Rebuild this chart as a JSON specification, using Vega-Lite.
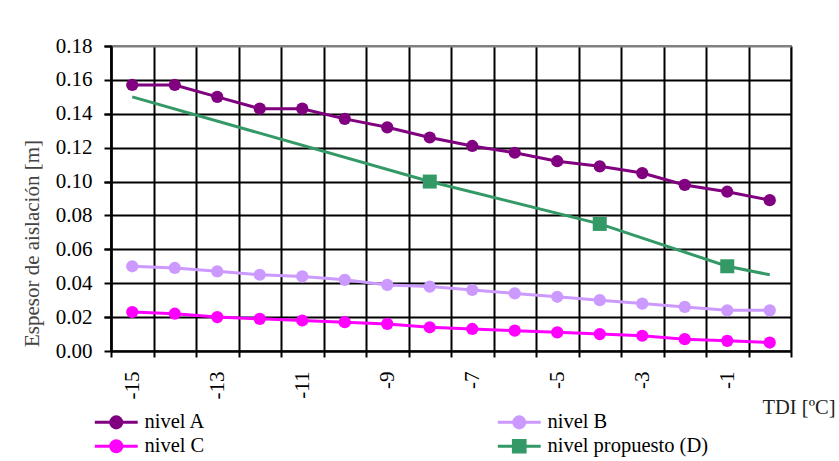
{
  "$schema": "https://vega.github.io/schema/vega-lite/v6.json",
  "width": 680,
  "height": 305,
  "autosize": "none",
  "padding": {"left": 111, "top": 46, "right": 48, "bottom": 110},
  "background": "white",
  "config": {
    "font": "Liberation Serif",
    "view": {"stroke": "#808080", "strokeWidth": 2},
    "axis": {"labelFont": "Liberation Serif", "titleFont": "Liberation Serif", "labelColor": "black", "titleFontWeight": "normal", "labelFontSize": 21, "labelOverlap": false, "domainColor": "black", "domainWidth": 2, "tickColor": "black", "tickWidth": 2, "gridColor": "black", "gridWidth": 2, "gridOpacity": 1},
    "legend": {"labelFont": "Liberation Serif", "labelFontSize": 20.5, "labelColor": "black"}
  },
  "resolve": {"axis": {"y": "independent"}},
  "datasets": {
    "niveles": [
      {"tdi": -15, "espesor": 0.157, "serie": "nivel A"},
      {"tdi": -14, "espesor": 0.157, "serie": "nivel A"},
      {"tdi": -13, "espesor": 0.150, "serie": "nivel A"},
      {"tdi": -12, "espesor": 0.143, "serie": "nivel A"},
      {"tdi": -11, "espesor": 0.143, "serie": "nivel A"},
      {"tdi": -10, "espesor": 0.137, "serie": "nivel A"},
      {"tdi": -9, "espesor": 0.132, "serie": "nivel A"},
      {"tdi": -8, "espesor": 0.126, "serie": "nivel A"},
      {"tdi": -7, "espesor": 0.121, "serie": "nivel A"},
      {"tdi": -6, "espesor": 0.117, "serie": "nivel A"},
      {"tdi": -5, "espesor": 0.112, "serie": "nivel A"},
      {"tdi": -4, "espesor": 0.109, "serie": "nivel A"},
      {"tdi": -3, "espesor": 0.105, "serie": "nivel A"},
      {"tdi": -2, "espesor": 0.098, "serie": "nivel A"},
      {"tdi": -1, "espesor": 0.094, "serie": "nivel A"},
      {"tdi": 0, "espesor": 0.089, "serie": "nivel A"},
      {"tdi": -15, "espesor": 0.050, "serie": "nivel B"},
      {"tdi": -14, "espesor": 0.049, "serie": "nivel B"},
      {"tdi": -13, "espesor": 0.047, "serie": "nivel B"},
      {"tdi": -12, "espesor": 0.045, "serie": "nivel B"},
      {"tdi": -11, "espesor": 0.044, "serie": "nivel B"},
      {"tdi": -10, "espesor": 0.042, "serie": "nivel B"},
      {"tdi": -9, "espesor": 0.039, "serie": "nivel B"},
      {"tdi": -8, "espesor": 0.038, "serie": "nivel B"},
      {"tdi": -7, "espesor": 0.036, "serie": "nivel B"},
      {"tdi": -6, "espesor": 0.034, "serie": "nivel B"},
      {"tdi": -5, "espesor": 0.032, "serie": "nivel B"},
      {"tdi": -4, "espesor": 0.030, "serie": "nivel B"},
      {"tdi": -3, "espesor": 0.028, "serie": "nivel B"},
      {"tdi": -2, "espesor": 0.026, "serie": "nivel B"},
      {"tdi": -1, "espesor": 0.024, "serie": "nivel B"},
      {"tdi": 0, "espesor": 0.024, "serie": "nivel B"},
      {"tdi": -15, "espesor": 0.023, "serie": "nivel C"},
      {"tdi": -14, "espesor": 0.022, "serie": "nivel C"},
      {"tdi": -13, "espesor": 0.020, "serie": "nivel C"},
      {"tdi": -12, "espesor": 0.019, "serie": "nivel C"},
      {"tdi": -11, "espesor": 0.018, "serie": "nivel C"},
      {"tdi": -10, "espesor": 0.017, "serie": "nivel C"},
      {"tdi": -9, "espesor": 0.016, "serie": "nivel C"},
      {"tdi": -8, "espesor": 0.014, "serie": "nivel C"},
      {"tdi": -7, "espesor": 0.013, "serie": "nivel C"},
      {"tdi": -6, "espesor": 0.012, "serie": "nivel C"},
      {"tdi": -5, "espesor": 0.011, "serie": "nivel C"},
      {"tdi": -4, "espesor": 0.010, "serie": "nivel C"},
      {"tdi": -3, "espesor": 0.009, "serie": "nivel C"},
      {"tdi": -2, "espesor": 0.007, "serie": "nivel C"},
      {"tdi": -1, "espesor": 0.006, "serie": "nivel C"},
      {"tdi": 0, "espesor": 0.005, "serie": "nivel C"}
    ],
    "propuesto": [
      {"tdi": -15, "espesor": 0.150, "serie": "nivel propuesto (D)"},
      {"tdi": -8, "espesor": 0.100, "serie": "nivel propuesto (D)"},
      {"tdi": -4, "espesor": 0.075, "serie": "nivel propuesto (D)"},
      {"tdi": -1, "espesor": 0.050, "serie": "nivel propuesto (D)"},
      {"tdi": 0, "espesor": 0.045, "serie": "nivel propuesto (D)"}
    ],
    "propuestoMarcas": [
      {"tdi": -8, "espesor": 0.100, "serie": "nivel propuesto (D)"},
      {"tdi": -4, "espesor": 0.075, "serie": "nivel propuesto (D)"},
      {"tdi": -1, "espesor": 0.050, "serie": "nivel propuesto (D)"}
    ],
    "series": [
      {"leyenda": "nivel A"},
      {"leyenda": "nivel B"},
      {"leyenda": "nivel C"},
      {"leyenda": "nivel propuesto (D)"}
    ]
  },
  "layer": [
    {
      "data": {"name": "niveles"},
      "mark": {"type": "line", "strokeWidth": 3},
      "encoding": {
        "x": {
          "field": "tdi", "type": "ordinal", "bandPosition": 0.5,
          "scale": {"type": "band", "domain": [-15, -14, -13, -12, -11, -10, -9, -8, -7, -6, -5, -4, -3, -2, -1, 0], "paddingInner": 0, "paddingOuter": 0},
          "axis": {
            "title": "TDI [ºC]",
            "titleFontSize": 20.5, "titleColor": "#222222",
            "titleAnchor": null, "titleAlign": "right", "titleBaseline": "middle",
            "titleX": 724, "titleY": 56,
            "labelAngle": -90, "labelFontSize": 21, "labelFont": "Liberation Serif", "labelPadding": 14, "labelOverlap": false,
            "labelExpr": "datum.value % 2 === 0 ? '' : datum.label",
            "tickBand": "extent", "tickSize": 6,
            "grid": true
          }
        },
        "y": {
          "field": "espesor", "type": "quantitative",
          "scale": {"domain": [0, 0.18], "nice": false},
          "axis": {
            "orient": "left",
            "title": "Espesor de aislación [m]",
            "titleFontSize": 21, "titleColor": "#444444",
            "titleAngle": -90, "titleAnchor": null, "titleAlign": "center", "titleBaseline": "middle",
            "titleX": -79, "titleY": 197,
            "values": [0, 0.02, 0.04, 0.06, 0.08, 0.1, 0.12, 0.14, 0.16, 0.18],
            "format": ".2f", "labelFontSize": 21, "labelFont": "Liberation Serif", "labelPadding": 12, "labelOverlap": false,
            "labelExpr": "round(datum.value * 100) % 4 === 0 ? datum.label : ''",
            "tickSize": 7,
            "grid": true,
            "gridColor": {"condition": {"test": "datum.value >= 0.179", "value": "#808080"}, "value": "black"}
          }
        },
        "color": {
          "field": "serie", "type": "nominal", "legend": null,
          "scale": {"domain": ["nivel A", "nivel B", "nivel C", "nivel propuesto (D)"], "range": ["#800080", "#CC99FF", "#FF00FF", "#339966"]}
        }
      }
    },
    {
      "data": {"name": "niveles"},
      "mark": {"type": "point", "shape": "circle", "filled": true, "size": 150, "opacity": 1},
      "encoding": {
        "x": {"field": "tdi", "type": "ordinal", "bandPosition": 0.5},
        "y": {
          "field": "espesor", "type": "quantitative",
          "axis": {
            "orient": "left", "title": null,
            "values": [0.02, 0.06, 0.1, 0.14, 0.18],
            "format": ".2f", "labelFontSize": 21, "labelFont": "Liberation Serif", "labelPadding": 12, "labelOverlap": false,
            "tickSize": 7, "grid": false
          }
        },
        "color": {"field": "serie", "type": "nominal", "legend": null}
      }
    },
    {
      "data": {"name": "propuesto"},
      "mark": {"type": "line", "strokeWidth": 3},
      "encoding": {
        "x": {"field": "tdi", "type": "ordinal", "bandPosition": 0.5},
        "y": {"field": "espesor", "type": "quantitative", "axis": null},
        "color": {"field": "serie", "type": "nominal", "legend": null}
      }
    },
    {
      "data": {"name": "propuestoMarcas"},
      "mark": {"type": "point", "shape": "square", "filled": true, "size": 196, "opacity": 1},
      "encoding": {
        "x": {"field": "tdi", "type": "ordinal", "bandPosition": 0.5},
        "y": {"field": "espesor", "type": "quantitative", "axis": null},
        "color": {"field": "serie", "type": "nominal", "legend": null}
      }
    },
    {
      "data": {"name": "series"},
      "mark": {"type": "point", "filled": true, "opacity": 0, "strokeWidth": 3},
      "encoding": {
        "fill": {
          "field": "leyenda", "type": "nominal",
          "scale": {"range": ["#800080", "#CC99FF", "#FF00FF", "#339966"]},
          "legend": {
            "title": null, "orient": "none", "legendX": -5, "legendY": 366,
            "direction": "horizontal", "columns": 2, "columnPadding": 285, "rowPadding": 0,
            "padding": 0, "symbolSize": 169, "symbolOpacity": 1, "symbolStrokeWidth": 3,
            "labelFont": "Liberation Serif", "labelFontSize": 20.5, "labelColor": "black", "labelOffset": 18, "labelLimit": 300
          }
        },
        "stroke": {
          "field": "leyenda", "type": "nominal",
          "scale": {"range": ["#800080", "#CC99FF", "#FF00FF", "#339966"]},
          "legend": {
            "title": null, "orient": "none", "legendX": -5, "legendY": 366,
            "direction": "horizontal", "columns": 2, "columnPadding": 285, "rowPadding": 0,
            "padding": 0, "symbolSize": 169, "symbolOpacity": 1, "symbolStrokeWidth": 3,
            "labelFont": "Liberation Serif", "labelFontSize": 20.5, "labelColor": "black", "labelOffset": 18, "labelLimit": 300
          }
        },
        "shape": {
          "field": "leyenda", "type": "nominal",
          "scale": {
            "range": [
              "M-3.3,0H3.3M0.85,0A0.85,0.85 0 1,1 -0.85,0A0.85,0.85 0 1,1 0.85,0Z",
              "M-3.3,0H3.3M0.85,0A0.85,0.85 0 1,1 -0.85,0A0.85,0.85 0 1,1 0.85,0Z",
              "M-3.3,0H3.3M0.85,0A0.85,0.85 0 1,1 -0.85,0A0.85,0.85 0 1,1 0.85,0Z",
              "M-3.3,0H3.3M-0.9,-0.9H0.9V0.9H-0.9Z"
            ]
          },
          "legend": {
            "title": null, "orient": "none", "legendX": -5, "legendY": 366,
            "direction": "horizontal", "columns": 2, "columnPadding": 285, "rowPadding": 0,
            "padding": 0, "symbolSize": 169, "symbolOpacity": 1, "symbolStrokeWidth": 3,
            "labelFont": "Liberation Serif", "labelFontSize": 20.5, "labelColor": "black", "labelOffset": 18, "labelLimit": 300
          }
        }
      }
    }
  ]
}
